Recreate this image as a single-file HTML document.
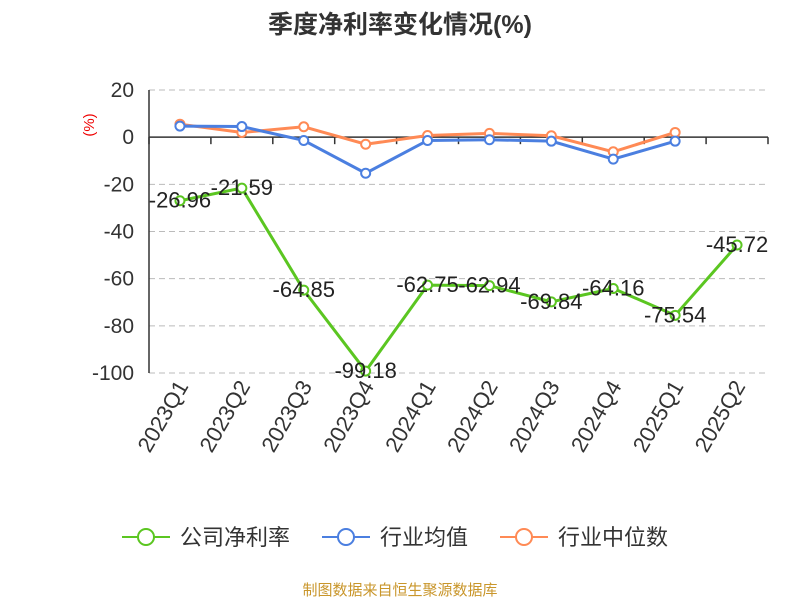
<!DOCTYPE html>
<html><head><meta charset="utf-8"><style>
body{margin:0;background:#fff;font-family:"Liberation Sans","Noto Sans CJK SC",sans-serif}
</style></head><body>
<svg width="800" height="600" xmlns="http://www.w3.org/2000/svg" id="svg">
<text x="400" y="33" text-anchor="middle" font-size="25" font-weight="bold" fill="#333">季度净利率变化情况(%)</text>
<text x="94" y="125" text-anchor="middle" font-size="15" fill="#e00" transform="rotate(-90 94 125)">(%)</text>
<g id="grid"></g><g id="axes"></g><g id="series"></g>
<g>
<g><line x1="122" y1="537" x2="170" y2="537" stroke="#5bc621" stroke-width="2"/><circle cx="146" cy="537" r="8" fill="#fff" stroke="#5bc621" stroke-width="2"/><text x="180" y="545" font-size="22" fill="#333">公司净利率</text></g>
<g><line x1="322" y1="537" x2="370" y2="537" stroke="#4b7fe0" stroke-width="2"/><circle cx="346" cy="537" r="8" fill="#fff" stroke="#4b7fe0" stroke-width="2"/><text x="380" y="545" font-size="22" fill="#333">行业均值</text></g>
<g><line x1="500" y1="537" x2="548" y2="537" stroke="#ff8a55" stroke-width="2"/><circle cx="524" cy="537" r="8" fill="#fff" stroke="#ff8a55" stroke-width="2"/><text x="558" y="545" font-size="22" fill="#333">行业中位数</text></g>
</g>
<text x="400" y="595" text-anchor="middle" font-size="15" fill="#c9962b">制图数据来自恒生聚源数据库</text>
</svg>
<script>
const categories=["2023Q1","2023Q2","2023Q3","2023Q4","2024Q1","2024Q2","2024Q3","2024Q4","2025Q1","2025Q2"];
const companyValues=[-26.96,-21.59,-64.85,-99.18,-62.75,-62.94,-69.84,-64.16,-75.54,-45.72];
const industryAvg=[4.7,4.5,-1.4,-15.3,-1.4,-1.1,-1.7,-9.3,-1.7];
const industryMedian=[5.5,2,4.4,-3,0.7,1.6,0.6,-6.2,2];
const yTicks=[20,0,-20,-40,-60,-80,-100];
const NS="http://www.w3.org/2000/svg";
const x0=149,x1=768,yTop=90,yBot=373;
const bw=(x1-x0)/categories.length;
function xs(i){return x0+bw*(i+0.5);}
function ys(v){return yTop+(20-v)/120*(yBot-yTop);}
function mk(t,a,p){const e=document.createElementNS(NS,t);for(const k in a)e.setAttribute(k,a[k]);p.appendChild(e);return e;}
const grid=document.getElementById('grid'),axes=document.getElementById('axes'),ser=document.getElementById('series');
yTicks.forEach(v=>{
 if(v!==0){const l=mk('line',{x1:x0,x2:x1,y1:ys(v),y2:ys(v),stroke:'#bbb','stroke-dasharray':'6,4'},grid);
 
 }
 const t=mk('text',{x:x0-15,y:ys(v)+7,'text-anchor':'end','font-size':21,fill:'#333'},axes);t.textContent=v;
 
 
});
const ya=mk('line',{x1:x0,x2:x0,y1:yTop,y2:yBot,stroke:'#333','stroke-width':1.5},axes);


const xa=mk('line',{x1:x0,x2:x1,y1:ys(0),y2:ys(0),stroke:'#333','stroke-width':1.5},axes);


for(let i=0;i<=categories.length;i++){mk('line',{x1:x0+bw*i,x2:x0+bw*i,y1:ys(0),y2:ys(0)+7,stroke:'#333','stroke-width':1.5},axes);}
categories.forEach((c,i)=>{const x=xs(i)+9,y=386;
 const t=mk('text',{x:x,y:y,'text-anchor':'end','font-size':22,fill:'#333',transform:`rotate(-60 ${x} ${y})`},axes);t.textContent=c;
 
 });
function series(vals,color,name){
 const g=mk('g',{},ser);
 
 
 mk('polyline',{points:vals.map((v,i)=>xs(i)+','+ys(v)).join(' '),fill:'none',stroke:color,'stroke-width':3},g);
 vals.forEach((v,i)=>{const c=mk('circle',{cx:xs(i),cy:ys(v),r:4.5,fill:'#fff',stroke:color,'stroke-width':2},g);
 
 });
 return g;
}
series(industryMedian,'#ff8a55','industry-median-line');
series(industryAvg,'#4b7fe0','industry-avg-line');
const cg=series(companyValues,'#5bc621','company-line');
companyValues.forEach((v,i)=>{const t=mk('text',{x:xs(i),y:ys(v)+7,'text-anchor':'middle','font-size':22,fill:'#222'},cg);t.textContent=v.toFixed(2);
 
 });
</script>
</body></html>
